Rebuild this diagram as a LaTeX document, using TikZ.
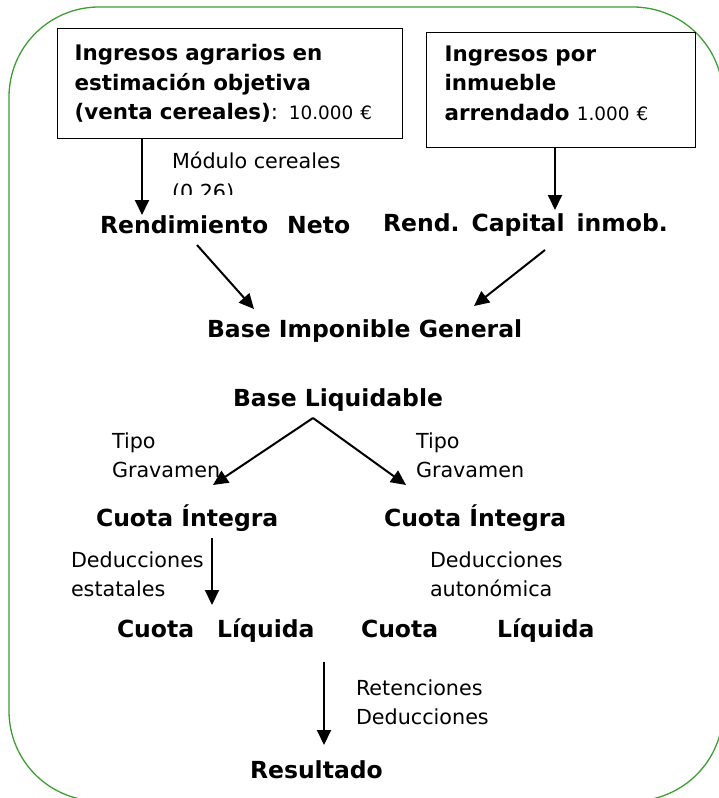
\documentclass[tikz,border=0pt]{standalone}
\usepackage{fontspec}
\setmainfont{DejaVu Sans}
\usetikzlibrary{arrows.meta}
\definecolor{marco}{RGB}{62,158,52}

\begin{document}
\begin{tikzpicture}[x=1pt,y=-1pt,line width=2pt,>={Triangle[length=15pt,width=14pt]},
    caja/.style={draw,line width=1.2pt,anchor=north west,align=left,font=\fontsize{21.4}{29.5}\selectfont},
    titulo/.style={anchor=base west,inner sep=0pt,font=\fontsize{23.5}{28}\selectfont\bfseries},
    texto/.style={anchor=base west,inner sep=0pt,align=left,font=\fontsize{20.7}{29}\selectfont}]
    \clip (0,0) rectangle (719,798);
    \draw[marco,line width=1.3pt,rounded corners=90pt] (9,7) rectangle (723,801);

    \node[caja,minimum width=345pt,minimum height=110pt,text width=311pt,inner xsep=17pt] (ingagr) at (57,28)
        {\textbf{Ingresos agrarios en}\\\textbf{estimación objetiva}\\\textbf{(venta cereales)}: {\fontsize{18.4}{20}\selectfont 10.000 €}};
    \node[caja,minimum width=269pt,minimum height=115pt,text width=233pt,inner xsep=18pt] (ingimm) at (426,32)
        {\textbf{Ingresos por}\\\textbf{inmueble}\\\textbf{arrendado} {\fontsize{18.4}{20}\selectfont 1.000 €}\rule[-14pt]{0pt}{14pt}};

    \begin{scope}
        \clip (0,0) rectangle (719,194);
        \node[texto,font=\fontsize{20.7}{31}\selectfont] (modulo) at (171,199) {Módulo cereales\\(0.26)};
    \end{scope}

    \node[titulo] (rendneto) at (99,233) {Rendimiento\hspace{19pt}Neto};
    \node[titulo] (rendcap) at (382,231) {Rend.\hspace{12pt}Capital\hspace{12pt}inmob.};
    \node[titulo] (bip) at (206,337) {Base Imponible General};
    \node[titulo] (bliq) at (232,406) {Base Liquidable};
    \node[texto] (tipoa) at (111,477) {Tipo\\Gravamen};
    \node[texto] (tipob) at (415,477) {Tipo\\Gravamen};
    \node[titulo] (cuotaia) at (95,526) {Cuota Íntegra};
    \node[titulo] (cuotaib) at (383,526) {Cuota Íntegra};
    \node[texto] (deda) at (70,596) {Deducciones\\estatales};
    \node[texto] (dedb) at (429,596) {Deducciones\\autonómica};
    \node[titulo] (cuotala) at (116,637) {Cuota\hspace{23pt}Líquida};
    \node[titulo] (cuotalb) at (360,637) {Cuota\hspace{59pt}Líquida};
    \node[texto] (reten) at (355,724) {Retenciones\\Deducciones};
    \node[titulo] (result) at (249,778) {Resultado};

    \draw[->] ([xshift=85pt]ingagr.south west) -- ([xshift=43pt,yshift=18pt]rendneto.base west);
    \draw[->] ([xshift=129pt]ingimm.south west) -- ([xshift=173pt,yshift=21pt]rendcap.base west);
    \draw[->] ([xshift=98pt,yshift=-12pt]rendneto.base west) -- ([xshift=48pt,yshift=28pt]bip.base west);
    \draw[->] ([xshift=163pt,yshift=-19pt]rendcap.base west) -- ([xshift=268pt,yshift=31pt]bip.base west);
    \draw[->] ([xshift=81pt,yshift=-12pt]bliq.base west) -- ([xshift=118pt,yshift=41pt]cuotaia.base west);
    \draw[->] ([xshift=81pt,yshift=-12pt]bliq.base west) -- ([xshift=23pt,yshift=41pt]cuotaib.base west);
    \draw[->] ([xshift=117pt,yshift=-12pt]cuotaia.base west) -- ([xshift=96pt,yshift=32pt]cuotala.base west);
    \draw[->] ([xshift=208pt,yshift=-25pt]cuotala.base west) -- ([xshift=75pt,yshift=33pt]result.base west);
\end{tikzpicture}
\end{document}
